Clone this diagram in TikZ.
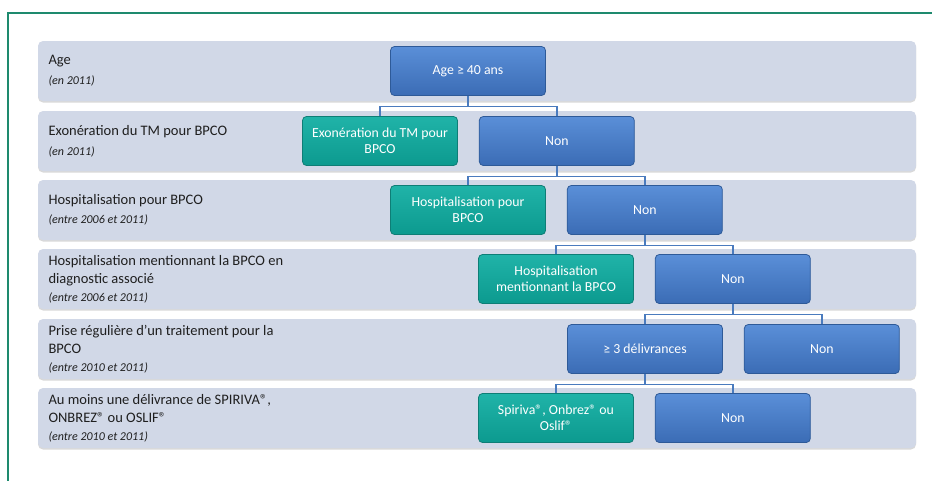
\documentclass[tikz,border=0pt]{standalone}
\usepackage{fontspec}
\setmainfont{Carlito}
\usepackage{tikz}
\usetikzlibrary{positioning, calc, shadows}
\definecolor{framegreen}{HTML}{1E8A6E}
\definecolor{bandgrey}{HTML}{D1D8E7}
\definecolor{blueTop}{HTML}{5A8FD8}
\definecolor{blueBot}{HTML}{3B6CB5}
\definecolor{blueEdge}{HTML}{2E5A98}
\definecolor{tealTop}{HTML}{20B3A8}
\definecolor{tealBot}{HTML}{0C9A8F}
\definecolor{tealEdge}{HTML}{0E7E76}
\definecolor{linkblue}{HTML}{4A7BBE}
\newcommand{\period}[1]{{\fontsize{12}{14}\selectfont\itshape #1}}
\newcommand{\regmark}{®}

\begin{document}
\begin{tikzpicture}[
  x=1pt, y=-1pt,
  band/.style={rectangle, rounded corners=5pt, fill=bandgrey, minimum width=878pt, minimum height=60pt, drop shadow={shadow xshift=0pt, shadow yshift=-1.5pt, opacity=0.3}},
  lbl/.style={anchor=west, align=left, text=black!88, font=\fontsize{14.5}{18}\selectfont},
  nonbox/.style={rectangle, draw=blueEdge, thick, rounded corners=4pt, align=center, top color=blueTop, bottom color=blueBot, text=white, font=\fontsize{13.8}{16}\selectfont, minimum width=155pt, minimum height=49pt, inner sep=2pt},
  yesbox/.style={nonbox, draw=tealEdge, top color=tealTop, bottom color=tealBot},
  link/.style={draw=linkblue, line width=1.6pt}
]
  \useasboundingbox (0,0) rectangle (932,480);
  \draw[framegreen, line width=2pt] (8,481) -- (8,13) -- (933,13);

  \node[band] (r1) at (477,71) {};
  \node[band] (r2) at (477,141) {};
  \node[band] (r3) at (477,210) {};
  \node[band] (r4) at (477,279) {};
  \node[band] (r5) at (477,349) {};
  \node[band] (r6) at (477,418) {};

  \node[lbl] (l1) at (45,71) {Age\\[2pt]\period{(en 2011)}};
  \node[lbl] (l2) at (45,141) {Exonération du TM pour BPCO\\[2pt]\period{(en 2011)}};
  \node[lbl] (l3) at (45,210) {Hospitalisation pour BPCO\\[1pt]\period{(entre 2006 et 2011)}};
  \node[lbl] (l4) at (45,279) {Hospitalisation mentionnant la BPCO en\\diagnostic associé\\[0pt]\period{(entre 2006 et 2011)}};
  \node[lbl] (l5) at (45,349) {Prise régulière d’un traitement pour la\\BPCO\\[0pt]\period{(entre 2010 et 2011)}};
  \node[lbl] (l6) at (45,418) {Au moins une délivrance de SPIRIVA\regmark,\\ONBREZ\regmark{} ou OSLIF\regmark\\[0pt]\period{(entre 2010 et 2011)}};

  \node[nonbox] (age) at (468,71) {Age ≥ 40 ans};
  \node[yesbox] (exo) at (380,141) {Exonération du TM pour\\BPCO};
  \node[nonbox, right=21pt of exo] (non1) {Non};
  \node[yesbox] (hosp) at (468,210) {Hospitalisation pour\\BPCO};
  \node[nonbox, right=21pt of hosp] (non2) {Non};
  \node[yesbox] (mention) at (556,279) {Hospitalisation\\mentionnant la BPCO};
  \node[nonbox, right=21pt of mention] (non3) {Non};
  \node[nonbox] (deliv) at (645,349) {≥ 3 délivrances};
  \node[nonbox, right=21pt of deliv] (non4) {Non};
  \node[yesbox] (spiriva) at (556,418) {Spiriva\regmark, Onbrez\regmark{} ou\\Oslif\regmark};
  \node[nonbox, right=21pt of spiriva] (non5) {Non};

  \draw[link] (age.south) -- ++(0,10.5) -| (exo.north);
  \draw[link] (age.south) -- ++(0,10.5) -| (non1.north);
  \draw[link] (non1.south) -- ++(0,10.5) -| (hosp.north);
  \draw[link] (non1.south) -- ++(0,10.5) -| (non2.north);
  \draw[link] (non2.south) -- ++(0,10.5) -| (mention.north);
  \draw[link] (non2.south) -- ++(0,10.5) -| (non3.north);
  \draw[link] (non3.south) -- ++(0,10.5) -| (deliv.north);
  \draw[link] (non3.south) -- ++(0,10.5) -| (non4.north);
  \draw[link] (deliv.south) -- ++(0,10.5) -| (spiriva.north);
  \draw[link] (deliv.south) -- ++(0,10.5) -| (non5.north);
\end{tikzpicture}
\end{document}
